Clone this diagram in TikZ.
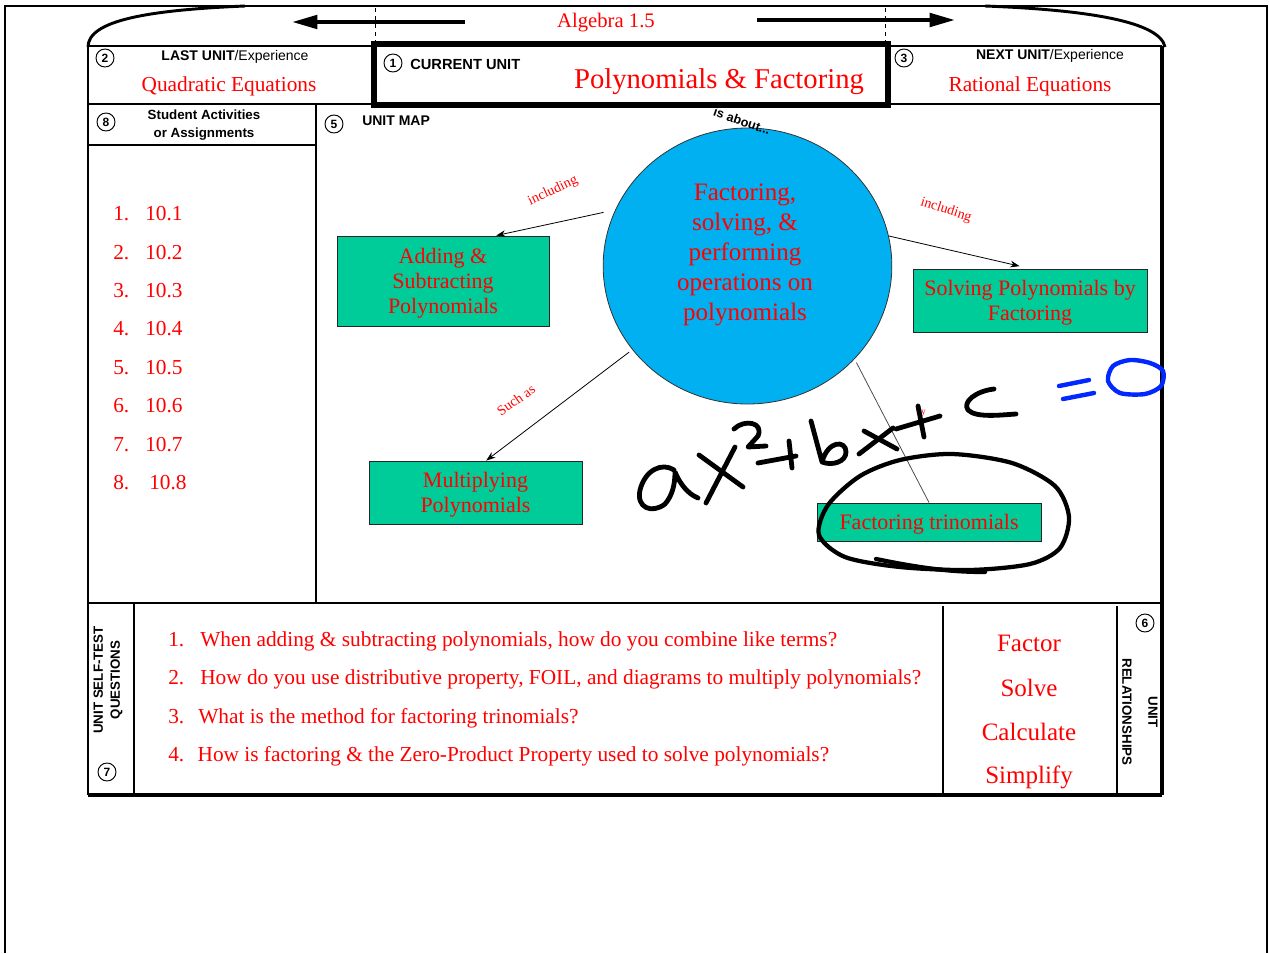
\documentclass[tikz,border=0pt]{standalone}
\usepackage{fontspec}
\setmainfont{Liberation Serif}
\setsansfont{Liberation Sans}
\usetikzlibrary{arrows.meta,shapes.geometric,calc}
\definecolor{boxgreen}{RGB}{0,204,153}
\definecolor{bubble}{RGB}{0,176,240}
\definecolor{hwblue}{RGB}{0,40,255}
\tikzset{
  num/.style={circle, draw, line width=0.7pt, inner sep=0pt, minimum size=13.5pt, font=\sffamily\bfseries\fontsize{9}{9}\selectfont},
  lbl/.style={inner sep=0pt, font=\sffamily\fontsize{10.5}{12}\selectfont},
  rtxt/.style={inner sep=0pt, text=red, font=\fontsize{16}{19}\selectfont},
  gbox/.style={draw=black!85, fill=boxgreen, line width=0.7pt, inner sep=0pt, align=center, text=red, text depth=0pt, font=\fontsize{16.5}{18.75}\selectfont},
  arr/.style={-{Stealth[length=7pt,width=5pt]}, line width=0.6pt},
  bigarr/.style={-{Triangle[length=19pt,width=10pt]}, line width=3pt},
  conn/.style={line width=0.6pt, black!70},
  small/.style={inner sep=0pt, text=red, font=\fontsize{10.5}{11}\selectfont},
  hw/.style={line width=3.6pt, line cap=round, line join=round},
  hwb/.style={hw, hwblue, line width=3.3pt}
}
\begin{document}
\begin{tikzpicture}[x=0.75pt,y=-0.75pt]
\useasboundingbox (0,0) rectangle (1269,953);
% outer frame
\draw[line width=1.5pt] (5,953) -- (5,6) -- (1267,6) -- (1267,953);
% tab curves
\draw[line width=2.2pt] (88,47) .. controls (88,20) and (150,10) .. (245,6);
\draw[line width=2.2pt] (985,6) .. controls (1090,10) and (1160,22) .. (1165,47);
% dashed guides
\draw[dashed, line width=0.6pt] (375,8) -- (375,46);
\draw[dashed, line width=0.6pt] (885,8) -- (885,106);
% header row
\draw[line width=1.1pt] (88,46) -- (374,46);
\draw[line width=1.1pt] (888,46) -- (1162,46);
\draw[line width=3.8pt] (374,44) rectangle (888,105);
\draw[line width=1.9pt] (88,104) -- (1162,104);
% borders
\draw[line width=2.2pt] (88,46) -- (88,795);
\draw[line width=2.6pt] (1162,46) -- (1162,795);
\draw[line width=2.2pt] (316,104) -- (316,603);
\draw[line width=1.1pt] (88,145) -- (316,145);
\draw[line width=2.2pt] (88,603) -- (1162,603);
\draw[line width=0.8pt] (134,603) -- (134,793);
\draw[line width=2.2pt] (943,606) -- (943,795);
\draw[line width=0.8pt] (1117,606) -- (1117,795);
\draw[line width=3pt] (88,795) -- (1162,795);
% top arrows and title
\coordinate (la1) at (465,22); \coordinate (la2) at (292,22);
\coordinate (ra1) at (757,20); \coordinate (ra2) at (955,20);
\draw[bigarr] (la1) -- (la2);
\draw[bigarr] (ra1) -- (ra2);
\node[rtxt, font=\fontsize{15.5}{16}\selectfont] (title) at (606,23) {Algebra 1.5};
% numbered circles
\node[num] (n2) at (105,58) {2};
\node[num] (n1) at (393,63) {1};
\node[num] (n3) at (904,58) {3};
\node[num] (n8) at (106,122) {8};
\node[num] (n5) at (334,124) {5};
\node[num] (n6) at (1145,623) {6};
\node[num] (n7) at (107,772) {7};
% header texts
\node[lbl] (lastl) at (235,57) {{\bfseries LAST UNIT}/Experience};
\node[rtxt] (last) at (229,86.5) {Quadratic Equations};
\node[lbl, anchor=west, font=\sffamily\bfseries\fontsize{11}{12}\selectfont] (curl) at (410,64) {CURRENT UNIT};
\node[rtxt, font=\fontsize{21.5}{24}\selectfont] (cur) at (719,82) {Polynomials \& Factoring};
\node[lbl] (nextl) at (1050,56) {{\bfseries NEXT UNIT}/Experience};
\node[rtxt] (next) at (1030,86.5) {Rational Equations};
\node[lbl, align=center, font=\sffamily\bfseries\fontsize{10}{13.5}\selectfont] (act) at (204,125) {Student Activities\\or Assignments};
\node[lbl, anchor=west, font=\sffamily\bfseries\fontsize{10.5}{12}\selectfont] (umap) at (362,121) {UNIT MAP};
% assignment list
\foreach \i/\v/\y in {1/10.1/213.5, 2/10.2/252.5, 3/10.3/290.5, 4/10.4/328.5, 5/10.5/367.5, 6/10.6/405.5, 7/10.7/444.5}
  \node[rtxt, anchor=west] (a\i) at (113,\y) {\makebox[24pt][l]{\i.}\v};
\node[rtxt, anchor=west] (a8) at (113,482.5) {\makebox[27pt][l]{8.}10.8};
% concept map
\node[ellipse, draw=black!80, line width=0.6pt, fill=bubble, minimum width=216.5pt, minimum height=207pt, inner sep=0pt] (c) at (747.5,266) {};
\node[inner sep=0pt, align=center, text=red, font=\fontsize{18.8}{22.5}\selectfont] (ctext) at (745,255) {Factoring,\\solving, \&\\performing\\operations on\\polynomials};
\node[inner sep=0pt, rotate=-19, font=\sffamily\bfseries\fontsize{9.5}{10}\selectfont] (about) at (742,121) {is about...};
\node[gbox, minimum width=159pt, minimum height=67.5pt] (add) at (443,281) {Adding \&\\Subtracting\\Polynomials};
\node[gbox, minimum width=175.5pt, minimum height=47.25pt] (solv) at (1030,300.5) {Solving Polynomials by\\Factoring};
\node[gbox, minimum width=159.75pt, minimum height=47.25pt] (mult) at (475.5,492.5) {Multiplying\\Polynomials};
\node[gbox, minimum width=168pt, minimum height=28.5pt] (fact) at (929,522) {Factoring trinomials};
\draw[arr, shorten <=9pt] (c.157) -- ($(add.north east)!0.5!(add.north)$);
\draw[arr, shorten >=8pt] (c.12) -- (solv.north);
\draw[arr, shorten <=3pt] (c.216) -- ($(mult.north)!0.1!(mult.north east)$);
\draw[conn, shorten <=3pt] (c.319) -- (fact.north);
\node[small, rotate=25] (inc1) at (553,191) {including};
\node[small, rotate=-18] (inc2) at (946,210) {including};
\node[small, rotate=35] (such) at (516,400) {Such as};
\node[small, font=\fontsize{7}{7}\selectfont] (by) at (921,412) {by};
% handwriting
\draw[hw] (674,470) .. controls (662,462) and (645,470) .. (640,490) .. controls (636,508) and (652,514) .. (665,504) .. controls (672,496) and (675,485) .. (675,472) .. controls (680,484) and (688,494) .. (698,498);
\draw[hw] (706,503) -- (735,447);
\draw[hw] (699,455) -- (743,487);
\draw[hw] (734,429) .. controls (744,419) and (764,422) .. (758,436) -- (748,447) -- (766,446);
\draw[hw] (758,463) -- (796,456);
\draw[hw] (789,441) -- (792,468);
\draw[hw] (811,421) -- (822,462) .. controls (828,440) and (846,440) .. (846,452) .. controls (846,462) and (832,466) .. (822,462);
\draw[hw] (859,454) -- (893,428);
\draw[hw] (864,431) -- (897,449);
\draw[hw] (896,429) -- (940,416);
\draw[hw] (918,406) -- (924,437);
\draw[hw] (994,389) .. controls (976,391) and (962,402) .. (968,410) .. controls (976,418) and (1000,415) .. (1016,414);
\draw[hwb] (1059,386) -- (1089,380);
\draw[hwb] (1063,399) -- (1094,393);
\draw[hwb] plot[smooth cycle] coordinates {(1150,363) (1130,360) (1113,366) (1108,381) (1120,393) (1145,394) (1161,386) (1163,371)};
\draw[hw, line width=3.2pt] plot[smooth cycle] coordinates {(952,454) (1012,463) (1055,486) (1069,517) (1060,548) (1030,564) (970,570) (900,567) (845,557) (819,535) (828,505) (860,476) (900,460)};
\draw[hw, line width=3.2pt] (876,559) .. controls (920,568) and (950,572) .. (985,572);
% self-test questions
\node[inner sep=0pt, rotate=90, align=center, font=\sffamily\bfseries\fontsize{10}{12.75}\selectfont] (stq) at (108,680) {UNIT SELF-TEST\\QUESTIONS};
\node[rtxt, anchor=west] (q1) at (168,641.5) {\makebox[24pt][l]{1.}When adding \& subtracting polynomials, how do you combine like terms?};
\node[rtxt, anchor=west] (q2) at (168,679.5) {\makebox[24pt][l]{2.}How do you use distributive property, FOIL, and diagrams to multiply polynomials?};
\node[rtxt, anchor=west] (q3) at (168,718.5) {\makebox[22.5pt][l]{3.}What is the method for factoring trinomials?};
\node[rtxt, anchor=west] (q4) at (168,756.5) {\makebox[22pt][l]{4.}How is factoring \& the Zero-Product Property used to solve polynomials?};
% relationships
\node[rtxt, font=\fontsize{18.75}{20}\selectfont] (w1) at (1029,643) {Factor};
\node[rtxt, font=\fontsize{18.75}{20}\selectfont] (w2) at (1029,688) {Solve};
\node[rtxt, font=\fontsize{18.75}{20}\selectfont] (w3) at (1029,732) {Calculate};
\node[rtxt, font=\fontsize{18.75}{20}\selectfont] (w4) at (1029,777) {Simplify};
\node[inner sep=0pt, rotate=-90, align=center, font=\sffamily\bfseries\fontsize{10}{19.5}\selectfont] (rel) at (1140,712) {UNIT\\RELATIONSHIPS};
\end{tikzpicture}
\end{document}
